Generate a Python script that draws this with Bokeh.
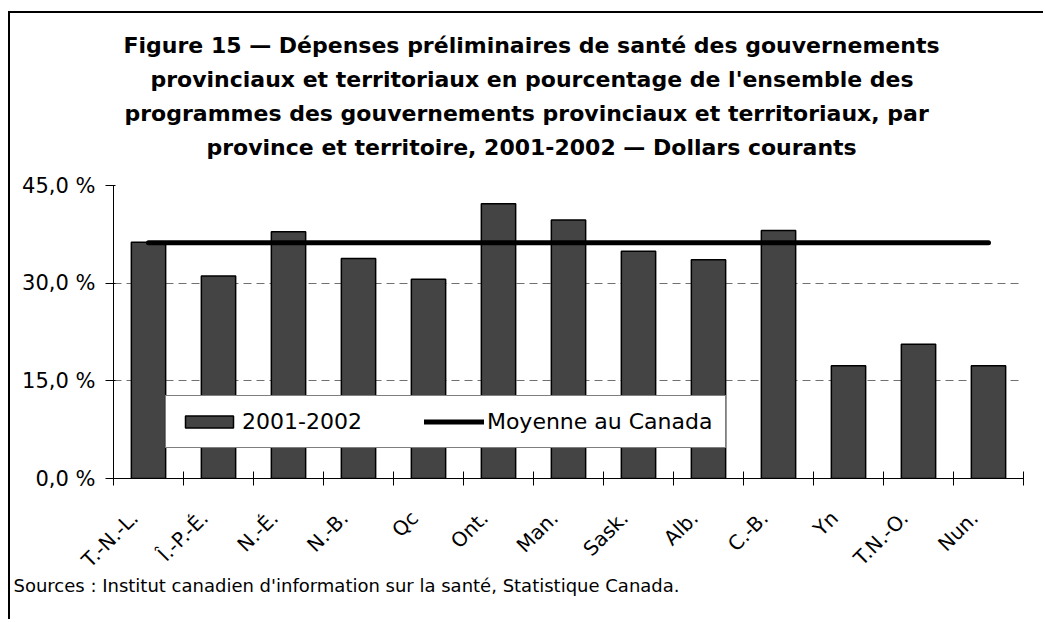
from math import pi
from bokeh.plotting import figure
from bokeh.models import (Range1d, FixedTicker, Title, Legend, LegendItem,
                          ColumnDataSource)
from bokeh.embed import file_html
from bokeh.resources import INLINE

# ---------------- data ----------------
categories = ["T.-N.-L.", "Î.-P.-É.", "N.-É.", "N.-B.", "Qc", "Ont.", "Man.",
              "Sask.", "Alb.", "C.-B.", "Yn", "T.N.-O.", "Nun."]
values_2001_2002 = [36.3, 31.1, 37.9, 33.8, 30.6, 42.2, 39.7, 34.9, 33.6,
                    38.1, 17.3, 20.6, 17.3]
canada_average = 36.2
y_ticks = [0, 15, 30, 45]
series_label = "2001-2002"
average_label = "Moyenne au Canada"
title_lines = [
    "Figure 15 — Dépenses préliminaires de santé des gouvernements",
    "provinciaux et territoriaux en pourcentage de l'ensemble des",
    "programmes des gouvernements provinciaux et territoriaux, par",
    "province et territoire, 2001-2002 — Dollars courants",
]
source_text = "Sources : Institut canadien d'information sur la santé, Statistique Canada."

# ---------------- layout ----------------
n = len(categories)
centers = [i + 0.5 for i in range(n)]
bounds = [float(i) for i in range(n + 1)]
label_shift = -0.2                      # rotated labels end a little left of centre
label_pos = [c + label_shift for c in centers]

W, H = 1035, 608
FONT = "DejaVu Sans"

p = figure(width=W, height=H, output_backend="svg", toolbar_location=None,
           x_range=Range1d(0, n), y_range=Range1d(0, 45),
           min_border_left=103, min_border_right=22,
           min_border_top=172, min_border_bottom=143,
           background_fill_color="white", border_fill_color="white")
p.styles = {"border-left": "2px solid black", "border-top": "2px solid black",
            "margin-top": "11px", "margin-left": "8px"}
p.outline_line_color = None

src = ColumnDataSource(dict(x=centers, top=values_2001_2002,
                            avg=[canada_average] * n))
bars = p.vbar(x="x", top="top", bottom=0, width=0.49, source=src,
              fill_color="#444444", line_color="black", line_width=1.5)
avg_line = p.line(x="x", y="avg", source=src, line_color="black",
                  line_width=5, line_cap="round")

# x axis
xax = p.xaxis[0]
xax.ticker = FixedTicker(ticks=label_pos, minor_ticks=bounds)
xax.major_label_overrides = {c: lab for c, lab in zip(label_pos, categories)}
xax.major_tick_in = 0
xax.major_tick_out = 0
xax.minor_tick_in = 7
xax.minor_tick_out = 7
xax.minor_tick_line_color = "black"
xax.axis_line_color = "black"
xax.major_label_orientation = pi / 4
xax.major_label_standoff = 29
xax.major_label_text_font = FONT
xax.major_label_text_font_size = "20px"
xax.major_label_text_color = "black"

# y axis
yax = p.yaxis[0]
yax.ticker = FixedTicker(ticks=y_ticks, minor_ticks=[])
yax.major_label_overrides = {t: f"{t:.1f} %".replace(".", ",") for t in y_ticks}
yax.major_tick_in = 2
yax.major_tick_out = 8
yax.minor_tick_line_color = None
yax.axis_line_color = "black"
yax.major_label_standoff = 10
yax.major_label_text_font = FONT
yax.major_label_text_font_size = "21px"
yax.major_label_text_color = "black"

p.xgrid.visible = False
p.ygrid.ticker = FixedTicker(ticks=y_ticks)
p.ygrid.grid_line_color = "#707070"
p.ygrid.grid_line_dash = "8 5"
p.ygrid.grid_line_width = 1

# legend
legend = Legend(items=[LegendItem(label=series_label, renderers=[bars]),
                       LegendItem(label=average_label, renderers=[avg_line])],
                orientation="horizontal", location=(52, 30),
                label_text_font=FONT, label_text_font_size="22px",
                label_text_color="black",
                glyph_width=60, glyph_height=15, label_standoff=3,
                spacing=62, padding=13,
                border_line_color="black", border_line_width=1.5,
                background_fill_color="white", background_fill_alpha=1.0)
p.add_layout(legend, "center")

# spacer between the frame and the title block
p.add_layout(Title(text=" ", text_font_size="2px", standoff=18), "above")

# title: left-aligned lines whose offsets centre them near x=531 px
title_offsets = [10, 37, 11, 93]
for txt, off in reversed(list(zip(title_lines, title_offsets))):
    p.add_layout(Title(text=txt, align="left", offset=off,
                       text_font=FONT, text_font_style="bold",
                       text_font_size="22px", text_color="black",
                       standoff=6.5), "above")

p.add_layout(Title(text=source_text, align="left", offset=-100,
                   text_font=FONT, text_font_style="normal",
                   text_font_size="18px", text_color="black",
                   standoff=-21), "below")

open("out.html", "w").write(file_html(p, INLINE))
